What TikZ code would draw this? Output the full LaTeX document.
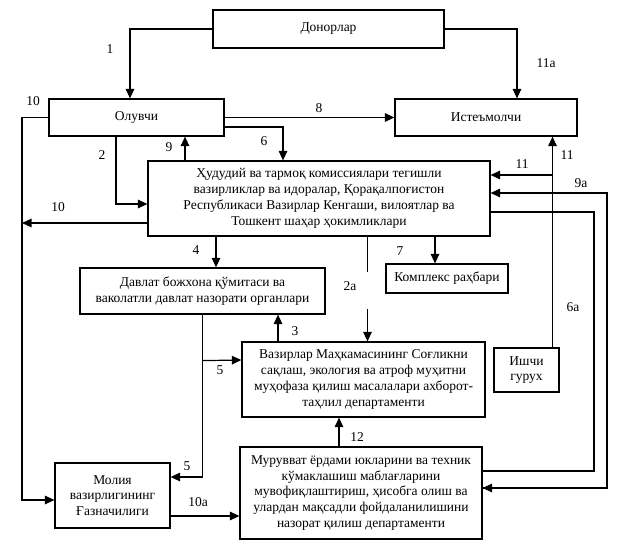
\documentclass[tikz,border=0pt]{standalone}
\usepackage{fontspec}
\setmainfont{Liberation Serif}
\usetikzlibrary{arrows.meta,calc}
\tikzset{
  box/.style={draw,line width=1.2pt,inner sep=0pt,align=center,font=\fontsize{13.5}{15.8}\selectfont},
  lbl/.style={inner sep=0pt,font=\fontsize{13.5}{15}\selectfont},
  ln/.style={line width=1.2pt},
  arr/.style={line width=1.2pt,-{Triangle[length=9.5pt,width=8.5pt]}},
}
\begin{document}
\begin{tikzpicture}[x=1pt,y=-1pt]
\useasboundingbox (0,0) rectangle (621,548);
% boxes
\node[box,minimum width=231pt,minimum height=38pt] (don) at (328.5,29) {Донорлар};
\node[box,minimum width=175pt,minimum height=37pt] (ol) at (136.5,117.5) {Олувчи};
\node[box,minimum width=182pt,minimum height=37pt] (ist) at (486,117.5) {Истеъмолчи};
\node[box,minimum width=342pt,minimum height=75pt] (hud) at (319,198.5) {Ҳудудий ва тармоқ комиссиялари тегишли\\вазирликлар ва идоралар, Қорақалпоғистон\\Республикаси Вазирлар Кенгаши, вилоятлар ва\\Тошкент шаҳар ҳокимликлари};
\node[box,minimum width=245pt,minimum height=46pt] (dav) at (202.5,291) {Давлат божхона қўмитаси ва\\ваколатли давлат назорати органлари};
\node[box,minimum width=122pt,minimum height=29pt] (kom) at (447,278.5) {Комплекс раҳбари};
\node[box,minimum width=243pt,minimum height=75pt] (vaz) at (363.5,379.5) {Вазирлар Маҳкамасининг Соғликни\\сақлаш, экология ва атроф муҳитни\\муҳофаза қилиш масалалари ахборот-\\таҳлил департаменти};
\node[box,minimum width=65pt,minimum height=44pt] (ish) at (526.5,370) {Ишчи\\гурух};
\node[box,minimum width=115pt,minimum height=65pt] (mol) at (112.5,495.5) {Молия\\вазирлигининг\\Ғазначилиги};
\node[box,minimum width=242pt,minimum height=92pt] (muv) at (361,493) {Мурувват ёрдами юкларини ва техник\\кўмаклашиш маблағларини\\мувофиқлаштириш, ҳисобга олиш ва\\улардан мақсадли фойдаланилишини\\назорат қилиш департаменти};
% helper coordinates
\coordinate (L) at (22,0);
\coordinate (R6) at (594,0);
\coordinate (R9) at (607,0);
% 1
\draw[arr] (don.west) -| ([xshift=-6.5pt]ol.north);
% 11a
\draw[arr] (don.east) -| ([xshift=31pt]ist.north);
% 8
\draw[arr] (ol.east) -- (ist.west);
% 10 (top)
\draw[arr] (ol.west) -- (ol.west -| L) |- ([yshift=-4.5pt]mol.west);
% 2
\draw[arr] ([xshift=-20.5pt]ol.south) |- ([yshift=-5.5pt]hud.west);
% 9
\draw[arr] ([xshift=-134pt]hud.north) -- ([xshift=-134pt]hud.north |- ol.south);
% 6
\draw[arr] ([yshift=-9.5pt]ol.east) -| ([xshift=-36pt]hud.north);
% 10 (second)
\draw[arr] ([yshift=-24.5pt]hud.west) -- ([yshift=-24.5pt]hud.west -| L);
% 4
\draw[arr] ([xshift=-103pt]hud.south) -- ([xshift=-103pt]hud.south |- dav.north);
% 7
\draw[arr] ([xshift=116pt]hud.south) -- ([xshift=116pt]hud.south |- kom.north);
% 2a
\coordinate (a2) at ([xshift=48.5pt]hud.south);
\draw[ln] (a2) -- ($(a2)+(0,35)$);
\draw[arr] ($(a2 |- vaz.north)+(0,-32)$) -- (a2 |- vaz.north);
% 3
\draw[arr] ([xshift=-85.5pt]vaz.north) -- ([xshift=-85.5pt]vaz.north |- dav.south);
% 5
\draw[arr] (dav.south) |- ([yshift=18.5pt]mol.east);
\draw[arr] ($(dav.south)+(0,46)$) -- ([yshift=19.5pt]vaz.west);
% 12
\draw[arr] ([xshift=-22pt]muv.north) -- ([xshift=-22pt]muv.north |- vaz.south);
% 10a
\draw[arr] ([yshift=-20.5pt]mol.east) -- ([yshift=-20.5pt]mol.east -| muv.west);
% 11
\draw[arr] ([xshift=26pt]ish.north) -- ([xshift=26pt]ish.north |- ist.south);
\draw[arr] ([xshift=26pt]ish.north |- 0,175) -- ([yshift=23.5pt]hud.east);
% 9a
\draw[arr] ([yshift=5pt]muv.east) -| ([yshift=5.5pt]hud.east -| R9) -- ([yshift=5.5pt]hud.east);
\draw[arr] ([yshift=5pt]muv.east -| R9) -- ([yshift=5pt]muv.east);
% 6a
\draw[ln] ([yshift=-13.5pt]hud.east) -| ([yshift=22pt]muv.east -| R6) -- ([yshift=22pt]muv.east);
% labels
\node[lbl] (t1) at (110,49) {1};
\node[lbl] (t11a) at (546,63) {11а};
\node[lbl] (t8) at (319,108) {8};
\node[lbl] (t10a) at (33,101) {10};
\node[lbl] (t2) at (102,155) {2};
\node[lbl] (t9) at (169,147) {9};
\node[lbl] (t6) at (264,141) {6};
\node[lbl] (t10b) at (58,207) {10};
\node[lbl] (t4) at (196,250) {4};
\node[lbl] (t7) at (400,251) {7};
\node[lbl] (t2a) at (350,286) {2а};
\node[lbl] (t3) at (295,331) {3};
\node[lbl] (t5a) at (220,370) {5};
\node[lbl] (t5b) at (187,466) {5};
\node[lbl] (t11b) at (567,155) {11};
\node[lbl] (t11c) at (522,164) {11};
\node[lbl] (t9a) at (581,183) {9а};
\node[lbl] (t6a) at (573,307) {6а};
\node[lbl] (t12) at (357,437) {12};
\node[lbl] (t10c) at (198,502) {10а};
\end{tikzpicture}
\end{document}
